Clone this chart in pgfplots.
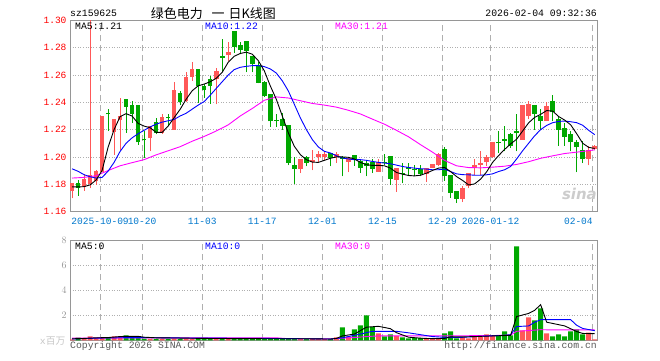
\documentclass[border=0pt]{standalone}
\usepackage{pgfplots}
\usepackage{pgfplotstable}
\pgfplotsset{compat=1.18}
\usepackage{fontspec}
\setmainfont{Liberation Mono}
\setmonofont{Liberation Mono}
\newfontfamily\cjk{Noto Sans CJK SC}
\newfontfamily\sinafont{DejaVu Sans}
\definecolor{upred}{RGB}{255,88,88}
\definecolor{dngreen}{RGB}{0,168,0}
\definecolor{gridgray}{RGB}{175,175,175}
\definecolor{framegray}{RGB}{150,150,150}
\definecolor{datablue}{RGB}{0,119,204}
\definecolor{ma10}{RGB}{0,0,255}
\definecolor{ma30}{RGB}{255,0,255}
\pgfplotsset{
  up only/.style={restrict expr to domain={\thisrow{u}}{0.5:1.5}},
  down only/.style={restrict expr to domain={\thisrow{u}}{-0.5:0.5}},
}
\pgfplotstableread{
i o h l c u v
0 1.1753 1.1810 1.1696 1.1807 1 0.08
1 1.1807 1.1832 1.1716 1.1778 0 0.21
2 1.1782 1.1876 1.1753 1.1837 1 0.16
3 1.1807 1.3000 1.1770 1.1866 1 0.32
4 1.1827 1.1906 1.1797 1.1893 1 0.19
5 1.1893 1.2300 1.1893 1.2300 1 0.19
6 1.2319 1.2349 1.2189 1.2314 0 0.19
7 1.2189 1.2275 1.2016 1.2275 1 0.32
8 1.2275 1.2435 1.2054 1.2300 1 0.32
9 1.2423 1.2423 1.2177 1.2369 0 0.40
10 1.2379 1.2408 1.2250 1.2319 0 0.19
11 1.2379 1.2379 1.2090 1.2110 0 0.19
12 1.2130 1.2189 1.1992 1.2125 0 0.13
13 1.2140 1.2226 1.2041 1.2226 1 0.12
14 1.2255 1.2285 1.2165 1.2177 0 0.12
15 1.2177 1.2317 1.2170 1.2287 1 0.12
16 1.2290 1.2312 1.2226 1.2285 0 0.10
17 1.2201 1.2546 1.2201 1.2484 1 0.14
18 1.2467 1.2484 1.2380 1.2403 0 0.12
19 1.2411 1.2620 1.2400 1.2583 1 0.12
20 1.2590 1.2694 1.2558 1.2645 1 0.10
21 1.2645 1.2645 1.2398 1.2521 0 0.12
22 1.2514 1.2534 1.2435 1.2492 0 0.10
23 1.2571 1.2591 1.2391 1.2526 0 0.12
24 1.2571 1.2652 1.2386 1.2625 1 0.10
25 1.2735 1.2861 1.2620 1.2731 0 0.12
26 1.2748 1.2846 1.2706 1.2768 1 0.10
27 1.2920 1.2920 1.2763 1.2809 0 0.12
28 1.2817 1.2840 1.2754 1.2787 0 0.10
29 1.2846 1.2846 1.2620 1.2780 0 0.12
30 1.2735 1.2740 1.2620 1.2683 0 0.10
31 1.2674 1.2694 1.2540 1.2546 0 0.12
32 1.2546 1.2558 1.2440 1.2452 0 0.12
33 1.2460 1.2460 1.2221 1.2263 0 0.14
34 1.2270 1.2312 1.2218 1.2265 0 0.10
35 1.2272 1.2320 1.2200 1.2231 0 0.10
36 1.2231 1.2231 1.1938 1.1960 0 0.14
37 1.1940 1.1999 1.1802 1.1916 0 0.12
38 1.1918 1.1984 1.1881 1.1984 1 0.10
39 1.1999 1.2008 1.1930 1.1960 0 0.10
40 1.1965 1.2050 1.1902 1.1975 1 0.10
41 1.2000 1.2045 1.1960 1.2022 1 0.10
42 1.2000 1.2041 1.1975 1.2021 1 0.10
43 1.2029 1.2029 1.1930 1.1997 0 0.10
44 1.2004 1.2034 1.1955 1.2016 1 0.24
45 1.2000 1.2004 1.1857 1.1990 0 1.04
46 1.1967 1.1992 1.1886 1.1992 1 0.30
47 1.2009 1.2014 1.1935 1.1980 0 0.88
48 1.1967 1.1975 1.1881 1.1923 0 1.20
49 1.1955 1.1980 1.1857 1.1938 0 2.00
50 1.1960 1.1985 1.1881 1.1918 0 1.07
51 1.1893 1.1985 1.1893 1.1960 1 0.56
52 1.1962 1.2024 1.1943 1.1960 0 0.32
53 1.2004 1.2004 1.1795 1.1844 0 0.48
54 1.1837 1.1918 1.1746 1.1918 1 0.35
55 1.1878 1.1955 1.1807 1.1876 0 0.24
56 1.1920 1.1955 1.1857 1.1918 0 0.16
57 1.1910 1.1943 1.1857 1.1906 0 0.19
58 1.1906 1.1943 1.1857 1.1881 0 0.19
59 1.1881 1.1918 1.1819 1.1918 1 0.13
60 1.1923 1.1943 1.1920 1.1943 1 0.13
61 1.1943 1.2029 1.1930 1.2017 1 0.13
62 1.2058 1.2071 1.1824 1.1861 0 0.56
63 1.1861 1.1861 1.1700 1.1738 0 0.72
64 1.1746 1.1746 1.1662 1.1697 0 0.16
65 1.1696 1.1787 1.1669 1.1770 1 0.27
66 1.1787 1.1881 1.1770 1.1881 1 0.16
67 1.1925 1.1985 1.1864 1.1937 1 0.27
68 1.1943 1.2041 1.1869 1.1955 1 0.27
69 1.1967 1.2017 1.1930 1.1999 1 0.48
70 1.1999 1.2103 1.1990 1.2103 1 0.35
71 1.2105 1.2189 1.2029 1.2103 0 0.40
72 1.2125 1.2226 1.2041 1.2123 0 0.72
73 1.2164 1.2177 1.2066 1.2085 0 0.40
74 1.2189 1.2312 1.2041 1.2177 0 7.52
75 1.2127 1.2379 1.2127 1.2379 1 0.80
76 1.2300 1.2408 1.2275 1.2386 1 1.84
77 1.2379 1.2379 1.2201 1.2317 0 1.60
78 1.2295 1.2354 1.2201 1.2270 0 2.56
79 1.2263 1.2403 1.2263 1.2369 1 0.56
80 1.2408 1.2453 1.2263 1.2329 0 0.32
81 1.2275 1.2300 1.2083 1.2201 0 0.48
82 1.2206 1.2251 1.2083 1.2152 0 0.32
83 1.2164 1.2189 1.2041 1.2110 0 0.72
84 1.2103 1.2127 1.1886 1.2073 0 0.88
85 1.2049 1.2115 1.1955 1.1985 0 0.48
86 1.1987 1.2078 1.1938 1.2049 1 0.61
87 1.2058 1.2086 1.2049 1.2078 1 0.08
}\data
\pgfplotsset{
  kaxis/.style={
    scale only axis, width=527bp,
    xmin=-0.333, xmax=87.38,
    axis line style={framegray},
    major tick length=0pt,
    xtick={4.667,11.667,21.667,31.667,41.667,51.667,61.667,69.667,86.667},
    xmajorgrids, ymajorgrids,
    x grid style={gridgray, dash pattern=on 6bp off 4bp, line width=0.8bp},
    y grid style={gridgray, dash pattern=on 1bp off 1.6bp, line width=0.8bp},
    tick label style={font=\fontsize{9.6}{10}\selectfont},
  },
  candlewick/.style={draw=none, forget plot, error bars/.cd, y dir=plus, y explicit, error mark=none,
    error bar style={draw=#1, line width=1bp, solid}},
  candlebody/.style={draw=none, forget plot, error bars/.cd, y dir=plus, y explicit, error mark=none,
    error bar style={draw=#1, line width=4.6bp, solid}},
}
\begin{document}
\begin{tikzpicture}[x=1bp,y=1bp]
\path[use as bounding box] (0,0) rectangle (660,360);
% main panel
\begin{axis}[kaxis, at={(70bp,148.5bp)}, anchor=south west, height=191bp,
  ymin=1.16, ymax=1.30,
  ytick={1.16,1.18,1.20,1.22,1.24,1.26,1.28,1.30},
  yticklabels={1.16,1.18,1.20,1.22,1.24,1.26,1.28,1.30},
  yticklabel style={text=red},
  xticklabels={2025-10-09,10-20,11-03,11-17,12-01,12-15,12-29,2026-01-12,\llap{02-04}},
  xticklabel style={text=datablue, yshift=-3bp},
  clip=true]
\addplot[up only, candlewick=upred] table[x=i, y=l, y error plus expr=\thisrow{h}-\thisrow{l}]{\data};
\addplot[down only, candlewick=dngreen] table[x=i, y=l, y error plus expr=\thisrow{h}-\thisrow{l}]{\data};
\addplot[up only, candlebody=upred] table[x=i, y expr={min(\thisrow{o},\thisrow{c})-0.0003}, y error plus expr={abs(\thisrow{c}-\thisrow{o})+0.0006}]{\data};
\addplot[down only, candlebody=dngreen] table[x=i, y expr={min(\thisrow{o},\thisrow{c})-0.0003}, y error plus expr={abs(\thisrow{c}-\thisrow{o})+0.0006}]{\data};
% MA30
\addplot[ma30, line width=0.9bp, mark=none] coordinates {
(0,1.1845)(2,1.1850)(4,1.1862)(6,1.1900)(8,1.1935)(10,1.1958)(12,1.1980)(14,1.2015)(16,1.2045)(18,1.2075)(20,1.2115)(22,1.2150)(24,1.2190)(26,1.2235)(28,1.2300)(30,1.2355)(32,1.2415)(34,1.2440)(36,1.2432)(38,1.2412)(40,1.2392)(42,1.2380)(44,1.2365)(46,1.2342)(48,1.2315)(50,1.2277)(52,1.2240)(54,1.2195)(56,1.2148)(58,1.2090)(60,1.2035)(62,1.1975)(64,1.1935)(66,1.1922)(68,1.1920)(70,1.1925)(72,1.1932)(74,1.1945)(76,1.1965)(78,1.1990)(80,1.2008)(82,1.2025)(84,1.2035)(86,1.2046)(87,1.2052)};
% MA10
\addplot[ma10, line width=0.9bp, mark=none] coordinates {
(0,1.1913)(1,1.1895)(2,1.1870)(3,1.1855)(4,1.1845)(5,1.1850)(6,1.1895)(7,1.1960)(8,1.2040)(9,1.2100)(10,1.2140)(11,1.2170)(12,1.2195)(13,1.2220)(14,1.2240)(15,1.2255)(16,1.2265)(17,1.2275)(18,1.2300)(19,1.2320)(20,1.2350)(21,1.2380)(22,1.2406)(23,1.2452)(24,1.2502)(25,1.2551)(26,1.2600)(27,1.2640)(28,1.2657)(29,1.2664)(30,1.2669)(31,1.2669)(32,1.2662)(33,1.2645)(34,1.2615)(35,1.2558)(36,1.2484)(37,1.2386)(38,1.2287)(39,1.2201)(40,1.2127)(41,1.2073)(42,1.2041)(43,1.2029)(44,1.2009)(45,1.1992)(46,1.1985)(47,1.1980)(48,1.1980)(49,1.1975)(50,1.1967)(51,1.1960)(52,1.1955)(53,1.1950)(54,1.1940)(55,1.1930)(56,1.1923)(57,1.1918)(58,1.1913)(59,1.1911)(60,1.1906)(61,1.1906)(62,1.1911)(63,1.1893)(64,1.1876)(65,1.1870)(66,1.1869)(67,1.1866)(68,1.1866)(69,1.1869)(70,1.1876)(71,1.1893)(72,1.1906)(73,1.1930)(74,1.1985)(75,1.2045)(76,1.2100)(77,1.2155)(78,1.2200)(79,1.2231)(80,1.2251)(81,1.2260)(82,1.2263)(83,1.2258)(84,1.2251)(85,1.2232)(86,1.2195)(87,1.2163)};
% MA5
\addplot[black, line width=0.9bp, mark=none] coordinates {
(0,1.1780)(1,1.1780)(2,1.1782)(3,1.1795)(4,1.1830)(5,1.1900)(6,1.2070)(7,1.2200)(8,1.2295)(9,1.2317)(10,1.2300)(11,1.2246)(12,1.2226)(13,1.2214)(14,1.2180)(15,1.2180)(16,1.2226)(17,1.2288)(18,1.2349)(19,1.2423)(20,1.2485)(21,1.2521)(22,1.2534)(23,1.2551)(24,1.2576)(25,1.2620)(26,1.2694)(27,1.2738)(28,1.2758)(29,1.2768)(30,1.2753)(31,1.2706)(32,1.2632)(33,1.2521)(34,1.2423)(35,1.2300)(36,1.2177)(37,1.2078)(38,1.2017)(39,1.1980)(40,1.1962)(41,1.1960)(42,1.1975)(43,1.1990)(44,1.2000)(45,1.2000)(46,1.1997)(47,1.1985)(48,1.1960)(49,1.1943)(50,1.1938)(51,1.1938)(52,1.1935)(53,1.1918)(54,1.1886)(55,1.1874)(56,1.1864)(57,1.1861)(58,1.1866)(59,1.1881)(60,1.1901)(61,1.1918)(62,1.1923)(63,1.1893)(64,1.1856)(65,1.1828)(66,1.1795)(67,1.1802)(68,1.1837)(69,1.1890)(70,1.1960)(71,1.2010)(72,1.2055)(73,1.2095)(74,1.2130)(75,1.2190)(76,1.2250)(77,1.2290)(78,1.2312)(79,1.2340)(80,1.2336)(81,1.2296)(82,1.2270)(83,1.2235)(84,1.2170)(85,1.2100)(86,1.2070)(87,1.2062)};
\end{axis}
% volume panel
\begin{axis}[kaxis, at={(70bp,19.7bp)}, anchor=south west, height=100bp,
  ymin=0, ymax=8, ytick={2,4,6,8},
  yticklabel style={text=framegray},
  xticklabels={}, clip=true]
\addplot[up only, ybar, bar width=5bp, bar shift=0pt, fill=upred, draw=none] table[x=i, y=v]{\data};
\addplot[down only, ybar, bar width=5bp, bar shift=0pt, fill=dngreen, draw=none] table[x=i, y=v]{\data};
\addplot[ma30, line width=0.9bp, mark=none] coordinates {
(0,0.18)(10,0.2)(20,0.2)(34,0.2)(36,0.13)(43,0.12)(45,0.17)(47,0.22)(49,0.3)(51,0.35)(60,0.35)(70,0.38)(73,0.42)(74,0.72)(76,0.78)(78,0.85)(80,0.83)(87,0.83)};
\addplot[ma10, line width=0.9bp, mark=none] coordinates {
(0,0.1)(2,0.14)(5,0.18)(10,0.22)(15,0.2)(20,0.18)(30,0.16)(40,0.12)(43,0.1)(45,0.2)(48,0.5)(50,0.72)(54,0.72)(56,0.6)(58,0.45)(60,0.3)(62,0.24)(65,0.24)(68,0.32)(72,0.4)(73,0.45)(74,1.1)(76,1.15)(77,1.45)(78,1.65)(83,1.65)(84,1.2)(85,0.95)(87,0.77)};
\addplot[black, line width=0.9bp, mark=none] coordinates {
(0,0.12)(2,0.15)(4,0.2)(6,0.22)(8,0.3)(9,0.32)(11,0.32)(12,0.25)(14,0.2)(18,0.18)(22,0.15)(30,0.13)(40,0.12)(43,0.1)(44,0.15)(45,0.35)(47,0.5)(49,1.05)(51,1.12)(53,0.93)(54,0.61)(56,0.25)(58,0.17)(60,0.13)(62,0.15)(63,0.27)(65,0.27)(67,0.3)(70,0.35)(73,0.4)(74,1.9)(76,2.15)(77,2.4)(78,2.85)(79,1.45)(82,1.15)(84,0.7)(85,0.55)(87,0.53)};
\end{axis}
% texts
\begin{scope}[every node/.style={inner sep=0pt, font=\fontsize{9.8}{10}\selectfont}]
\node[anchor=west] at (70,346.7) {sz159625};
\node[anchor=west, font=\cjk\fontsize{13}{13}\selectfont] at (150.7,346.7) {绿色电力\hspace{9bp}一\hspace{4bp}日K线图};
\node[anchor=east] at (597,346.7) {2026-02-04 09:32:36};
\node[anchor=west] at (75,334) {MA5:1.21};
\node[anchor=west, text=ma10] at (205,334) {MA10:1.22};
\node[anchor=west, text=ma30] at (335,334) {MA30:1.21};
\node[anchor=west] at (75,113.3) {MA5:0};
\node[anchor=west, text=ma10] at (205,113.3) {MA10:0};
\node[anchor=west, text=ma30] at (335,113.3) {MA30:0};
\node[anchor=east, text=gray!45] at (65.5,19) {x{\cjk 百万}};
\node[anchor=west, text=black!65] at (70,14.5) {Copyright 2026 SINA.COM};
\node[anchor=east, text=black!65] at (597,14.5) {http://finance.sina.com.cn};
\node[anchor=east, text=gray!40, font=\sinafont\bfseries\itshape\fontsize{15}{15}\selectfont] at (597,166) {sina};
\end{scope}
\end{tikzpicture}
\end{document}
